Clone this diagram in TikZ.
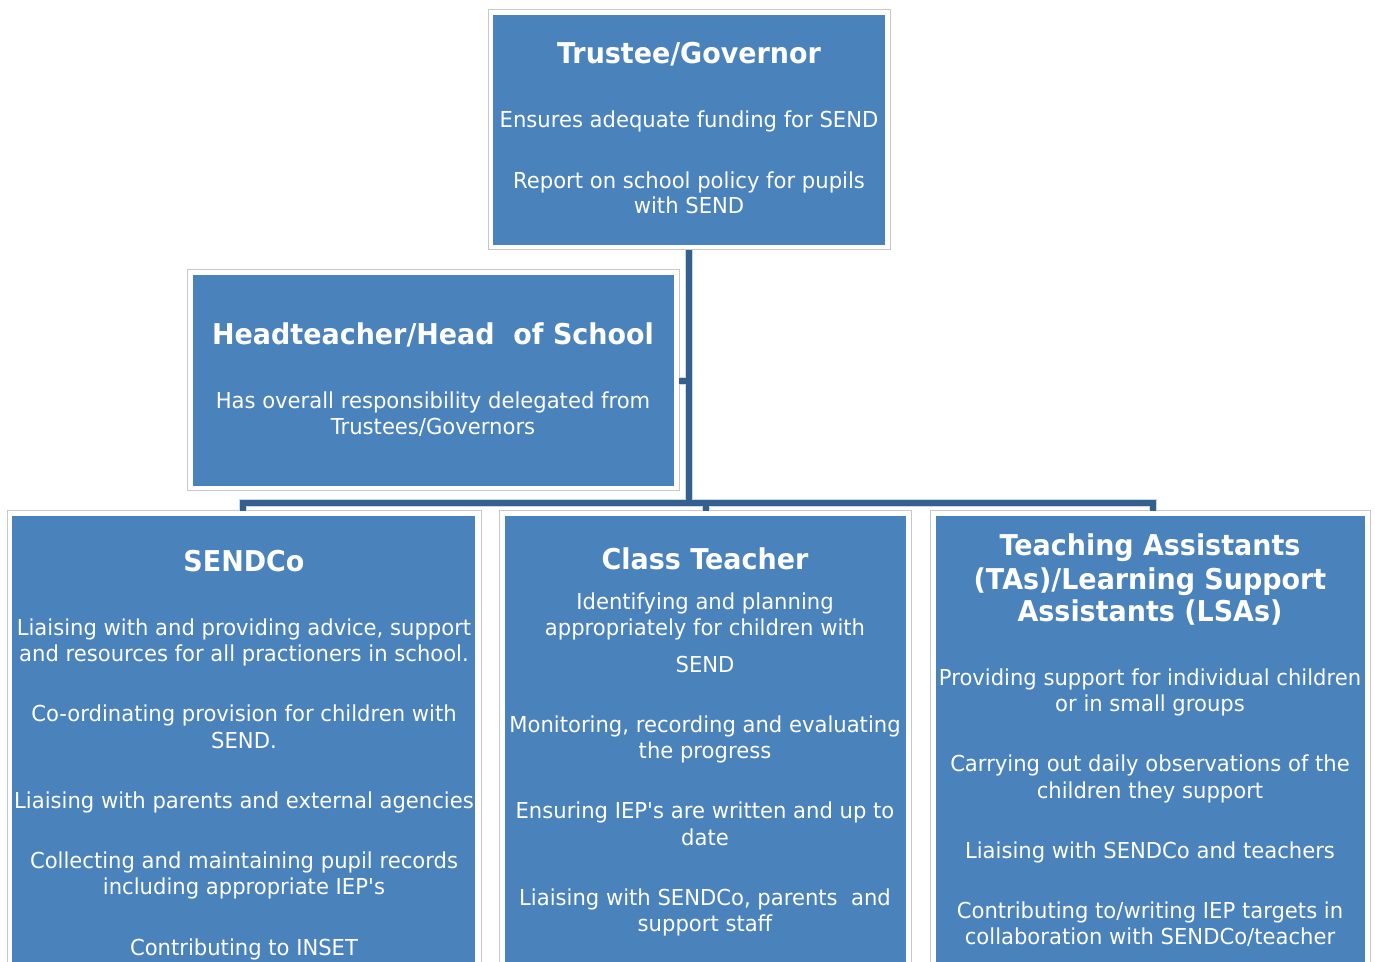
\documentclass[tikz,border=0pt]{standalone}
\usepackage{fontspec}
\setmainfont[FakeStretch=0.96, BoldFeatures={FakeStretch=0.94}]{DejaVu Sans}
\usetikzlibrary{fit}
\definecolor{boxblue}{HTML}{4A82BC}
\definecolor{linkblue}{HTML}{33608F}
\definecolor{linkedge}{HTML}{C9D6E4}
\definecolor{framegray}{HTML}{C8C8C8}
\tikzset{
  rolebox/.style={draw=none, fill=boxblue, inner sep=0pt, outer sep=0pt},
  framebox/.style={draw=framegray, line width=0.75pt, fill=white, inner sep=0pt, outer sep=0pt},
  bodytxt/.style={text=white, inner sep=0pt, anchor=base, font=\fontsize{16.5}{19.5}\selectfont},
  titletxt/.style={text=white, inner sep=0pt, anchor=base, font=\fontsize{21.5}{25}\selectfont\bfseries},
  linkhalo/.style={draw=linkedge, line width=5.5pt},
  link/.style={draw=linkblue, line width=4pt},
}
\begin{document}
\begin{tikzpicture}[x=0.75pt,y=-0.75pt]
\useasboundingbox (0,0) rectangle (1375,962);
\clip (0,0) rectangle (1375,962);
% frames
\node[framebox, fit={(488,10) (890,250)}] (trusteeframe) {};
\node[framebox, fit={(187,270) (679,491)}] (headframe) {};
\node[framebox, fit={(7,511) (481,980)}] (sendcoframe) {};
\node[framebox, fit={(499,511) (911,980)}] (classframe) {};
\node[framebox, fit={(930,511) (1370,980)}] (taframe) {};
% connectors
\coordinate (busL) at (243,503);
\coordinate (busM) at (706,503);
\coordinate (busR) at (1153,503);
\coordinate (trunk) at (689,503);
\coordinate (headstub) at (689,381);
\foreach \s in {linkhalo,link}{
  \draw[\s] (trusteeframe.south -| trunk) -- (trunk);
  \draw[\s] (headframe.east |- headstub) -- (headstub);
  \draw[\s] (busL |- sendcoframe.north) -- (busL) -- (busR) -- (busR |- taframe.north);
  \draw[\s] (busM) -- (busM |- classframe.north);
}
% boxes
\node[rolebox, fit={(493,15) (885,245)}] (trustee) {};
\node[rolebox, fit={(193,275) (674,486)}] (head) {};
\node[rolebox, fit={(12,516) (475,980)}] (sendco) {};
\node[rolebox, fit={(505,516) (906,980)}] (classt) {};
\node[rolebox, fit={(936,516) (1365,980)}] (ta) {};
% Trustee texts
\node[titletxt] (tr0) at (689,64) {Trustee/Governor};
\node[bodytxt] (tr1) at (689,128) {Ensures adequate funding for SEND};
\node[bodytxt] (tr2) at (689,189) {Report on school policy for pupils};
\node[bodytxt] (tr3) at (689,214) {with SEND};
% Head texts
\node[titletxt] (hd0) at (433,345) {Headteacher/Head\ \ of School};
\node[bodytxt] (hd1) at (433,409) {Has overall responsibility delegated from};
\node[bodytxt] (hd2) at (433,435) {Trustees/Governors};
% SENDCo texts
\node[titletxt] (sc0) at (244,571) {SENDCo};
\node[bodytxt] (sc1) at (244,635) {Liaising with and providing advice, support};
\node[bodytxt] (sc2) at (244,661) {and resources for all practioners in school.};
\node[bodytxt] (sc3) at (244,721) {Co-ordinating provision for children with};
\node[bodytxt] (sc4) at (244,748) {SEND.};
\node[bodytxt] (sc5) at (244,808) {Liaising with parents and external agencies};
\node[bodytxt] (sc6) at (244,868) {Collecting and maintaining pupil records};
\node[bodytxt] (sc7) at (244,894) {including appropriate IEP\textquotesingle s};
\node[bodytxt] (sc8) at (244,955) {Contributing to INSET};
% Class teacher texts
\node[titletxt] (ct0) at (705,569) {Class Teacher};
\node[bodytxt] (ct1) at (705,609) {Identifying and planning};
\node[bodytxt] (ct2) at (705,635) {appropriately for children with};
\node[bodytxt] (ct3) at (705,672) {SEND};
\node[bodytxt] (ct4) at (705,732) {Monitoring, recording and evaluating};
\node[bodytxt] (ct5) at (705,758) {the progress};
\node[bodytxt] (ct6) at (705,818) {Ensuring IEP\textquotesingle s are written and up to};
\node[bodytxt] (ct7) at (705,845) {date};
\node[bodytxt] (ct8) at (705,905) {Liaising with SENDCo, parents\ \ and};
\node[bodytxt] (ct9) at (705,931) {support staff};
% TA texts
\node[titletxt] (ta0) at (1150,556) {Teaching Assistants};
\node[titletxt] (ta1) at (1150,589) {(TAs)/Learning Support};
\node[titletxt] (ta2) at (1150,621) {Assistants (LSAs)};
\node[bodytxt] (ta3) at (1150,685) {Providing support for individual children};
\node[bodytxt] (ta4) at (1150,711) {or in small groups};
\node[bodytxt] (ta5) at (1150,771) {Carrying out daily observations of the};
\node[bodytxt] (ta6) at (1150,798) {children they support};
\node[bodytxt] (ta7) at (1150,858) {Liaising with SENDCo and teachers};
\node[bodytxt] (ta8) at (1150,918) {Contributing to/writing IEP targets in};
\node[bodytxt] (ta9) at (1150,944) {collaboration with SENDCo/teacher};
\end{tikzpicture}
\end{document}
